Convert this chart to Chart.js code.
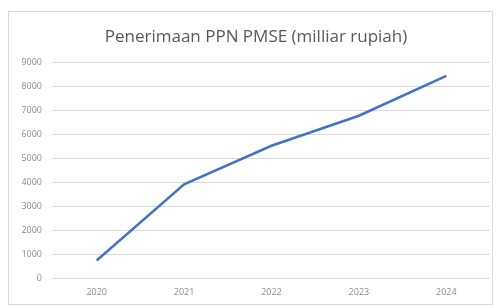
<!DOCTYPE html>
<html lang="en">
<head>
  <meta charset="UTF-8" />
  <title>Penerimaan PPN PMSE</title>
  <script src="https://cdn.jsdelivr.net/npm/chart.js"></script>
  <style>
    body { margin: 0; background: #fff; }
    #wrap { position: relative; width: 499px; height: 307px; }
    #frame { position: absolute; left: 8px; top: 11px; width: 485px; height: 294px; border: 1px solid #d9d9d9; box-sizing: border-box; }
    canvas { position: absolute; left: 0; top: 0; }
  </style>
</head>
<body>
<div id="wrap">
  <div id="frame"></div>
  <canvas id="chart" width="499" height="307"></canvas>
</div>
<script>
const years = ['2020', '2021', '2022', '2023', '2024'];
const receipts = [731, 3900, 5510, 6760, 8420];
const yTicks = [0, 1000, 2000, 3000, 4000, 5000, 6000, 7000, 8000, 9000];

new Chart(document.getElementById('chart'), {
  type: 'line',
  data: {
    labels: years,
    datasets: [{
      label: 'Penerimaan PPN PMSE',
      data: receipts,
      borderColor: '#4472C4',
      borderWidth: 2.5,
      pointRadius: 0,
      tension: 0,
      fill: false
    }]
  },
  options: {
    responsive: false,
    animation: false,
    layout: { padding: { left: 22, right: 9, top: 0, bottom: 0 } },
    plugins: {
      legend: { display: false },
      tooltip: { enabled: false },
      title: {
        display: true,
        text: 'Penerimaan PPN PMSE (milliar rupiah)',
        color: '#595959',
        font: { family: 'Open Sans', size: 17, weight: 'normal' },
        padding: { top: 27, bottom: 14.6 }
      }
    },
    scales: {
      x: {
        offset: true,
        grid: { display: false, drawTicks: false },
        border: { display: false },
        ticks: { color: '#8c8c8c', font: { family: 'Open Sans', size: 9 }, padding: 9 },
        afterFit: s => { s.height = 29; }
      },
      y: {
        min: 0,
        max: 9000,
        afterBuildTicks: s => { s.ticks = yTicks.map(v => ({ value: v })); },
        grid: { color: '#d9d9d9', drawTicks: false },
        border: { display: false },
        ticks: {
          color: '#8c8c8c',
          font: { family: 'Open Sans', size: 9 },
          padding: 11,
          callback: v => String(v)
        },
        afterFit: s => { s.width = 31; }
      }
    }
  }
});
</script>
</body>
</html>
